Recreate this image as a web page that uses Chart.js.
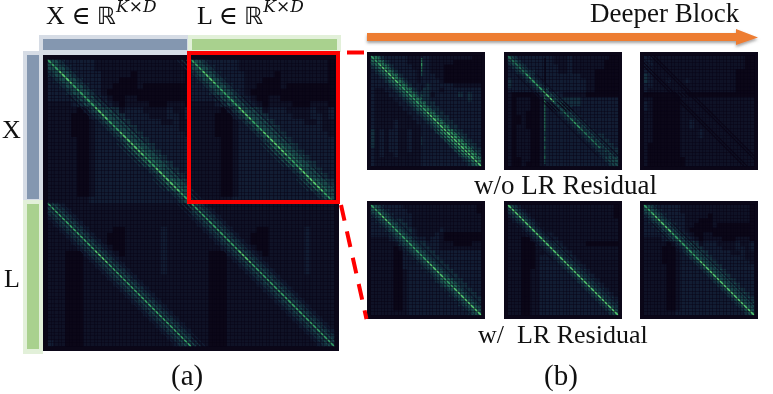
<!DOCTYPE html>
<html><head><meta charset="utf-8">
<script src="https://cdn.jsdelivr.net/npm/chart.js@4"></script>
<style>
html,body{margin:0;padding:0;background:#fff;}
#fig{position:relative;width:773px;height:394px;overflow:hidden;font-family:"Liberation Serif","DejaVu Serif",serif;color:#111;}
.t{position:absolute;white-space:pre;line-height:1;}
.b{position:absolute;}
.p{position:absolute;}
.p canvas{display:block;}
sup{font-style:italic;font-family:"DejaVu Serif","Liberation Serif",serif;font-size:17px;line-height:0;position:relative;top:-2px;vertical-align:super;}
.rr{font-family:"DejaVu Sans",sans-serif;font-size:24px;}
</style></head><body>
<div id="fig">
 <div class="b" style="left:39px;top:35px;width:149px;height:20px;background:#d6dce5"></div>
 <div class="b" style="left:43px;top:39px;width:144px;height:11px;background:#8497b0"></div>
 <div class="b" style="left:188px;top:35px;width:153px;height:17px;background:#e2f0d9"></div>
 <div class="b" style="left:192px;top:39px;width:145px;height:11px;background:#a9d18e"></div>
 <div class="b" style="left:23px;top:51px;width:20px;height:149px;background:#d6dce5"></div>
 <div class="b" style="left:27px;top:55px;width:12px;height:144px;background:#8497b0"></div>
 <div class="b" style="left:23px;top:200px;width:20px;height:154px;background:#e2f0d9"></div>
 <div class="b" style="left:27px;top:204px;width:12px;height:145px;background:#a9d18e"></div>

 <div class="p" id="pLarge" style="left:43px;top:55px"></div>
 <div class="p" id="pT1" style="left:367px;top:52px"></div>
 <div class="p" id="pT2" style="left:504px;top:52px"></div>
 <div class="p" id="pT3" style="left:640px;top:52px"></div>
 <div class="p" id="pB1" style="left:367px;top:201px"></div>
 <div class="p" id="pB2" style="left:504px;top:201px"></div>
 <div class="p" id="pB3" style="left:640px;top:201px"></div>

 <div class="b" style="left:187px;top:51px;width:145px;height:145px;border:4px solid #ff0000"></div>
 <svg class="b" style="left:0;top:0" width="773" height="394">
  <defs><filter id="sh" x="-5%" y="-60%" width="110%" height="260%"><feDropShadow dx="0" dy="2" stdDeviation="1.5" flood-color="#555" flood-opacity=".55"/></filter></defs>
  <line x1="347" y1="52.5" x2="364" y2="52.5" stroke="#ff0000" stroke-width="4"/>
  <line x1="341" y1="205" x2="366.5" y2="319" stroke="#ff0000" stroke-width="4" stroke-dasharray="16 11"/>
  <polygon points="367,33 736,33 736,29 758,37.5 736,45 736,41 367,41" fill="#ed7d31" filter="url(#sh)"/>
 </svg>

 <div class="t" style="left:46px;top:3px;font-size:26px">X ∈ <span class="rr">ℝ</span><sup>K×D</sup></div>
 <div class="t" style="left:197px;top:3px;font-size:26px">L ∈ <span class="rr">ℝ</span><sup>K×D</sup></div>
 <div class="t" style="left:2px;top:117px;font-size:26px">X</div>
 <div class="t" style="left:4px;top:266px;font-size:26px">L</div>
 <div class="t" style="left:171px;top:361px;font-size:29px">(a)</div>
 <div class="t" style="left:544px;top:361px;font-size:29px">(b)</div>
 <div class="t" style="left:590px;top:0px;font-size:27px">Deeper Block</div>
 <div class="t" style="left:474px;top:172px;font-size:27px">w/o LR Residual</div>
 <div class="t" style="left:478px;top:322px;font-size:26px">w/  LR Residual</div>
</div>
<script>
// heatmap cell intensities, one string per row (0 dark .. 7 bright)
const quadTop = [
"443222221111111111111110","444322221111111111111110","344432222111110111111110","234443222111000111111110",
"223444322110000100000000","222344432100000000000000","222234443210011000000000","111123444321011110001110",
"111110134443122211112112","111100023444322221112212","111100012344432222211211","111100012234443222222211",
"111100012223444322222221","111110012222344432222222","111110012222234443222222","111110012222223444322222",
"111110012222222344432222","111110012222222234443222","111110012222222223444322","111110012222222222344432",
"111110012222222222234443","111110012222222222223444","111110012222222222222344","111111122222222222222234"];
const quadBottom = [
"332111111111111111111111","333211111111111111111111","233321111111111111111111","123332111111111111111111",
"112333211110011111121111","111233321100011111121111","111123332100011111121111","111112333210011111121111",
"111000233321011111121111","111000123332111111121111","111000112333211111121111","111000111233321111121111",
"111000111123332111111111","111000111112333211111111","111000111111233321111111","111000111111123332111111",
"111000111111112333211111","111000111111111233321111","111000111111111123332111","111000111111111112333211",
"111000111111111111233321","111000111111111111123332","111000111111111111112333","211000111111111111111233"];
const panelT1 = [
"453222221112211111111100","445322221112211111000000","344532222112211100000000","234453222212211100000000",
"223445322212221100000000","222344532212222100000000","222234453222322222111111","211223445323322122222222",
"211122344533312222232322","211112234453322222222322","211111223445332222222222","211111122344533222222222",
"211111112234453322222222","211111111223445332222222","211112111122344533222222","211112111112234453322222",
"312122112112223445332222","312122112112222344533222","312122112112222234453322","312122112112222223445332",
"212122112112222222344533","212112111112222222234453","211111111112222222223445","211111111112222222222344"];
const panelT2 = [
"432222222211121111111100","343222222211121111111000","234322222221121111111000","223433222221121111100000",
"222343222222222211100000","322234322222222221100000","322223432222222221100000","222222344222222221100000",
"100000023432111110000000","101110013343333322222222","101110012334333322222222","101110012233432222222222",
"101100012223343222222222","100100012222334322222222","100100012222233432222222","101100012222223343222222",
"101110012222222334322222","101110012222222233433222","101110012222222223343322","101110012222222222334332",
"101110012222222222233433","101110012222222222223343","100110012222222222222334","100100012222222222222233"];
const panelT3 = [
"221111111111111111111100","221111111111111111111100","221111111111111111111100","221111111111111111110000",
"321111111111111111110000","321112111211111111110000","221111111111111111110000","211111111111111111110000",
"000000000000000000000000","110000001111111111111111","210000001111111111111111","210000001111111111111111",
"110000001111111111111111","110000001111111111111111","110000001121111111111111","110000001121111111111111",
"110000001111211111111111","110000001111211111111111","110000001111111111111111","100000001111111111111111",
"100000001111111111111111","100000001111111111111111","100000000111111111111111","100000000111111111111111"];
const panelB1 = [
"443222211111111111111110","444322221111111111111110","344432222111111111111111","234443322111111111111111",
"223444332111111111111111","222344433211111211111111","222234443211112100000000","111123444322122100000000",
"111111344433222111000011","111110134443322111111111","111110023444332222222222","111110022344433222222222",
"111110022234443322222222","111110022223444332222222","111110012222344433222222","111110012222234443322222",
"111110012222223444332222","111110012222222344433222","111110012222222234443322","111110012222222223444332",
"111110012222222222344433","111110012222222222234443","111110012222222222223444","111111112222222222222344"];
const panelB2 = [
"432111111111111111111110","343211111111111111111110","234321111111111111111110","123432111111111111111111",
"112343211111111111111111","111234321111111111111111","111123432211111111111111","111002343221111111111111",
"111000234332111110000000","111000123433211111111111","111000112343321111111111","111000122234332111111111",
"111000122223433211111111","111000122222343321111111","111001122222234332111111","111001122222223433211111",
"111001122222222343321111","111001122222222234332111","111001122222222223433211","111001122222222222343321",
"111001122222222222234332","111001122222222222223433","111001122222222222222343","111001122222222222222234"];
const panelB3 = quadTop;

// brightness of the main diagonal and its neighbours, by stop along the diagonal
const diagTop = [6,7,6,6,7,6,7,7,6,7,7,6,7];
const sideTop = [4,4,4,3,4,4,4,5,5,4,5,4,4];
const diagBottom = [6,6,6,6,7,6,6,6,6,6,6,6,7];
const sideBottom = [4,4,4,4,4,4,4,4,4,4,4,4,4];
const diagT1 = [6,7,7,6,6,6,7,7,7,7,7,7,7];
const sideT1 = [5,5,5,5,5,5,5,5,6,6,6,5,5];
const diagT2 = [5,5,6,6,7,4,5,6,5,5,3,4,6];
const sideT2 = [4,4,3,3,3,0,3,3,3,3,3,4,5];
const diagT3 = [2,1,1,1,1,1,1,1,1,1,1,1,1];
const sideT3 = [1,1,1,1,1,1,1,1,1,1,1,1,1];
const diagB1 = [6,7,6,6,6,6,7,7,6,7,7,7,7];
const sideB1 = [4,4,4,4,4,4,4,4,5,4,4,4,4];
const diagB2 = [7,7,7,7,7,7,7,7,7,7,7,7,7];
const sideB2 = [4,4,3,3,3,3,4,4,4,4,4,4,3];
const diagB3 = [6,7,7,6,6,6,7,7,7,7,7,7,7];
const sideB3 = [4,4,3,3,3,4,4,4,4,4,4,4,4];

// vertical streaks: column, then brightness by row
const streakT1Col = 11.1;
const streakT1 = [5,6,5,4,2,2,1,3,5,4,4,3,3,2,2,2,2,3,3,2,2,2,2,3];
const streakT2Col = 8.1;
const streakT2 = [0,0,0,0,0,0,0,0,6,6,5,5,5,5,5,5,4,5,4,5,4,5,4,5];

const ramp = ['#0b0718','#0f1226','#121d33','#15303f','#1a4a4c','#237055','#35a064','#55c66d'];

function cells(rows, ox, oy){
  const out=[];
  rows.forEach((row,r)=>{ for(let c=0;c<row.length;c++) out.push({x:ox+c+.5,y:oy+r+.5,v:+row[c]}); });
  return out;
}
function heat(rows,ox,oy,px){
  return {type:'scatter',data:cells(rows,ox,oy),pointStyle:'rect',pointRadius:px/Math.SQRT2+.15,pointHoverRadius:0,borderWidth:0,
    pointBorderWidth:0,backgroundColor:c=>ramp[c.raw.v],order:5};
}
function diagLine(stops,ox,oy,off,w){
  return {type:'line',data:stops.map((v,i)=>({x:ox+off+i*2,y:oy+i*2})),pointRadius:0,borderWidth:w,tension:0,order:1,
    borderColor:ramp[stops[0]],segment:{borderColor:c=>ramp[stops[c.p0DataIndex]]}};
}
function dim(a,k){return a.map(v=>Math.max(0,v-k));}
function band(diag,side,ox,oy,step,px){
  return [
    diagLine(dim(side,2),ox,oy,-3*step,px), diagLine(dim(side,2),ox,oy,3*step,px),
    diagLine(dim(side,1),ox,oy,-2*step,px), diagLine(dim(side,1),ox,oy,2*step,px),
    diagLine(side,ox,oy,-step,px), diagLine(side,ox,oy,step,px),
    diagLine(diag,ox,oy,0,px*1.3)
  ];
}
function streak(col,vals){
  return {type:'line',data:vals.map((v,i)=>({x:col,y:i+.5})),pointRadius:0,borderWidth:1.5,order:2,
    borderColor:ramp[vals[0]],segment:{borderColor:c=>ramp[vals[c.p0DataIndex]]}};
}
function makeChart(host,size,span,datasets,gridStep){
  const cv=document.createElement('canvas');cv.width=size;cv.height=size;cv.style.width=size+'px';cv.style.height=size+'px';
  document.getElementById(host).appendChild(cv);
  const axis=rev=>({type:'linear',min:0,max:span,reverse:rev,display:true,
    border:{display:false},
    ticks:{display:false,stepSize:gridStep,autoSkip:false,maxTicksLimit:200},
    grid:{color:'rgba(6,3,18,0.42)',lineWidth:1,drawTicks:false,z:1}});
  new Chart(cv,{type:'scatter',data:{datasets},options:{responsive:false,animation:false,events:[],
    layout:{padding:0},plugins:{legend:{display:false},tooltip:{enabled:false},title:{display:false}},
    scales:{x:axis(false),y:axis(true)}},
    plugins:[{id:'bg',beforeDraw(ch){const g=ch.ctx;g.save();g.fillStyle=ramp[0];g.fillRect(0,0,ch.width,ch.height);g.restore();}}]});
}
const large=[
  heat(quadTop,0,0,6.17),heat(quadTop,24,0,6.17),heat(quadBottom,0,24,6.17),heat(quadBottom,24,24,6.17),
  ...band(diagTop,sideTop,0,0,.8,1.3),...band(diagTop,sideTop,24,0,.8,1.3),
  ...band(diagBottom,sideBottom,0,24,.8,1.2),...band(diagBottom,sideBottom,24,24,.8,1.2)
];
makeChart('pLarge',296,48,large,.6);
function small(host,m,d,s,extra){
  makeChart(host,118,24,[heat(m,0,0,4.92),...band(d,s,0,0,.75,1.1),...(extra||[])],.75);
}
small('pT1',panelT1,diagT1,sideT1,[streak(streakT1Col,streakT1)]);
small('pT2',panelT2,diagT2,sideT2,[streak(streakT2Col,streakT2)]);
small('pT3',panelT3,diagT3,sideT3);
small('pB1',panelB1,diagB1,sideB1);
small('pB2',panelB2,diagB2,sideB2);
small('pB3',panelB3,diagB3,sideB3);
</script>
</body></html>
